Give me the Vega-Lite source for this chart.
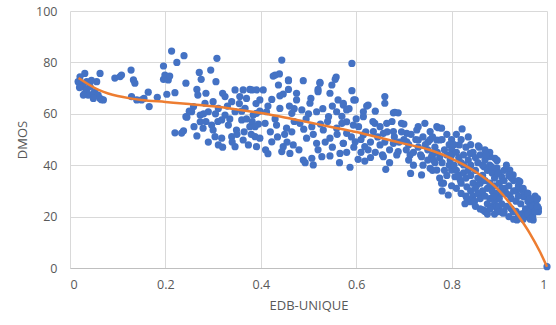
{
"$schema":"https://vega.github.io/schema/vega-lite/v6.json",
"width":477,"height":257,
"autosize":{"type":"none"},
"padding":{"left":70,"top":11,"right":9,"bottom":57},
"background":"white",
"config":{"view":{"stroke":null},"font":"Open Sans"},
"datasets":{
"pts":[
{"x":0.031,"y":75.7},{"x":0.021,"y":74.4},{"x":0.017,"y":72.5},{"x":0.025,"y":71.9},{"x":0.035,"y":72.5},{"x":0.028,"y":70.6},{"x":0.021,"y":70.6},{"x":0.035,"y":69.3},{"x":0.042,"y":70.6},{"x":0.031,"y":68},{"x":0.038,"y":67.3},{"x":0.049,"y":68},{"x":0.052,"y":68.6},{"x":0.059,"y":67.3},{"x":0.063,"y":66},{"x":0.07,"y":65.4},{"x":0.063,"y":75.7},{"x":0.056,"y":72.5},{"x":0.049,"y":66},{"x":0.028,"y":67.3},{"x":0.02,"y":70.2},{"x":0.094,"y":73.9},{"x":0.105,"y":74.5},{"x":0.108,"y":75.1},{"x":0.128,"y":77},{"x":0.133,"y":73.2},{"x":0.136,"y":71.9},{"x":0.129,"y":66.7},{"x":0.14,"y":65.4},{"x":0.15,"y":65.4},{"x":0.164,"y":68.4},{"x":0.166,"y":62.8},{"x":0.183,"y":66.4},{"x":0.155,"y":66},{"x":0.196,"y":78.6},{"x":0.196,"y":73.4},{"x":0.066,"y":65.5},{"x":0.045,"y":73},
{"x":0.213,"y":84.4},{"x":0.239,"y":82.6},{"x":0.224,"y":80},{"x":0.271,"y":76.1},{"x":0.295,"y":77},{"x":0.308,"y":81.6},{"x":0.199,"y":75.1},{"x":0.206,"y":73.2},{"x":0.243,"y":71.9},{"x":0.275,"y":73.4},{"x":0.306,"y":72.5},{"x":0.266,"y":69.5},{"x":0.22,"y":68.2},{"x":0.203,"y":67.6},{"x":0.268,"y":67.3},{"x":0.325,"y":66.7},{"x":0.346,"y":69.3},{"x":0.363,"y":69.3},{"x":0.377,"y":69.5},{"x":0.391,"y":69.3},{"x":0.356,"y":66.7},{"x":0.339,"y":64.7},{"x":0.3,"y":64.7},{"x":0.283,"y":64.1},{"x":0.259,"y":62.8},{"x":0.255,"y":60.8},{"x":0.273,"y":59.5},{"x":0.29,"y":60.8},{"x":0.311,"y":62.1},{"x":0.325,"y":59.5},{"x":0.346,"y":60.8},{"x":0.367,"y":62.1},{"x":0.384,"y":59.5},{"x":0.243,"y":58.9},{"x":0.273,"y":56.9},{"x":0.297,"y":55.6},{"x":0.318,"y":57.6},{"x":0.36,"y":57.6},{"x":0.377,"y":55},{"x":0.349,"y":53.7},{"x":0.3,"y":53.7},{"x":0.279,"y":54.4},{"x":0.22,"y":52.6},{"x":0.238,"y":53.4},{"x":0.266,"y":51.4},{"x":0.304,"y":51.1},{"x":0.318,"y":50.5},{"x":0.339,"y":51.1},{"x":0.363,"y":49.8},{"x":0.388,"y":51.1},{"x":0.311,"y":47.9},{"x":0.346,"y":47.2},{"x":0.374,"y":47.9},{"x":0.391,"y":47.2},{"x":0.332,"y":55.6},{"x":0.234,"y":52.5},{"x":0.245,"y":58.7},{"x":0.285,"y":68},{"x":0.31,"y":57},{"x":0.33,"y":63},{"x":0.35,"y":52},{"x":0.37,"y":58},{"x":0.39,"y":64},{"x":0.395,"y":56},{"x":0.32,"y":47},{"x":0.34,"y":49},{"x":0.36,"y":61},{"x":0.38,"y":52},{"x":0.28,"y":60},{"x":0.29,"y":49},{"x":0.26,"y":55},{"x":0.25,"y":61},{"x":0.209,"y":74.7},{"x":0.32,"y":68},{"x":0.355,"y":64},{"x":0.37,"y":66},{"x":0.335,"y":58},{"x":0.305,"y":60},{"x":0.285,"y":57},{"x":0.365,"y":53},{"x":0.382,"y":57},{"x":0.398,"y":61},
{"x":0.444,"y":80.9},{"x":0.43,"y":75.1},{"x":0.439,"y":75.5},{"x":0.437,"y":71.2},{"x":0.458,"y":72.9},{"x":0.489,"y":72.9},{"x":0.524,"y":71.9},{"x":0.558,"y":74.3},{"x":0.591,"y":79.6},{"x":0.381,"y":69.3},{"x":0.405,"y":69.3},{"x":0.423,"y":65.6},{"x":0.447,"y":67.7},{"x":0.458,"y":69.5},{"x":0.475,"y":65.4},{"x":0.503,"y":64.1},{"x":0.52,"y":68.6},{"x":0.545,"y":68},{"x":0.562,"y":65.4},{"x":0.573,"y":63.4},{"x":0.398,"y":65.4},{"x":0.391,"y":60.2},{"x":0.412,"y":60.8},{"x":0.44,"y":62.1},{"x":0.465,"y":60.2},{"x":0.486,"y":61.5},{"x":0.517,"y":60.8},{"x":0.542,"y":58.9},{"x":0.559,"y":60.8},{"x":0.58,"y":56.9},{"x":0.388,"y":55},{"x":0.409,"y":56.3},{"x":0.433,"y":55.6},{"x":0.454,"y":54.4},{"x":0.482,"y":56.3},{"x":0.507,"y":55},{"x":0.531,"y":53.7},{"x":0.559,"y":54.4},{"x":0.398,"y":50.5},{"x":0.423,"y":49.1},{"x":0.447,"y":47.2},{"x":0.468,"y":47.9},{"x":0.496,"y":50.5},{"x":0.517,"y":48.5},{"x":0.545,"y":50.5},{"x":0.573,"y":48.5},{"x":0.444,"y":45.3},{"x":0.461,"y":44.6},{"x":0.489,"y":42},{"x":0.507,"y":42.7},{"x":0.528,"y":43.3},{"x":0.545,"y":43.6},{"x":0.566,"y":44.6},{"x":0.493,"y":41},{"x":0.51,"y":40.1},{"x":0.426,"y":74.7},{"x":0.458,"y":73.2},{"x":0.52,"y":69.5},{"x":0.549,"y":71.2},{"x":0.556,"y":73.4},{"x":0.524,"y":72.2},{"x":0.41,"y":46},{"x":0.42,"y":53},{"x":0.43,"y":58},{"x":0.44,"y":67},{"x":0.45,"y":52},{"x":0.46,"y":63},{"x":0.47,"y":57},{"x":0.48,"y":46},{"x":0.49,"y":54},{"x":0.5,"y":60},{"x":0.51,"y":52},{"x":0.52,"y":46},{"x":0.53,"y":62},{"x":0.54,"y":57},{"x":0.55,"y":47},{"x":0.56,"y":52},{"x":0.57,"y":59},{"x":0.58,"y":45},{"x":0.59,"y":51},{"x":0.6,"y":58},{"x":0.415,"y":63},{"x":0.455,"y":49},{"x":0.475,"y":68},{"x":0.505,"y":66},{"x":0.535,"y":49},{"x":0.565,"y":41},{"x":0.595,"y":47},{"x":0.435,"y":51},{"x":0.465,"y":53},{"x":0.495,"y":58},{"x":0.525,"y":56},{"x":0.55,"y":63},{"x":0.585,"y":62},{"x":0.415,"y":44.5},{"x":0.47,"y":62},
{"x":0.591,"y":69},{"x":0.595,"y":65.4},{"x":0.573,"y":64.1},{"x":0.58,"y":61.5},{"x":0.625,"y":63.4},{"x":0.66,"y":66.7},{"x":0.66,"y":64.1},{"x":0.615,"y":60.8},{"x":0.615,"y":58.9},{"x":0.678,"y":60.4},{"x":0.688,"y":60.4},{"x":0.57,"y":56.3},{"x":0.594,"y":55.6},{"x":0.639,"y":56.3},{"x":0.664,"y":56.3},{"x":0.695,"y":56.3},{"x":0.744,"y":56.3},{"x":0.769,"y":55},{"x":0.58,"y":52.4},{"x":0.615,"y":51.8},{"x":0.636,"y":53.1},{"x":0.657,"y":52.4},{"x":0.678,"y":53.1},{"x":0.706,"y":52.4},{"x":0.727,"y":53.7},{"x":0.755,"y":53.1},{"x":0.573,"y":48.5},{"x":0.598,"y":49.1},{"x":0.618,"y":47.2},{"x":0.65,"y":47.9},{"x":0.678,"y":48.5},{"x":0.706,"y":49.1},{"x":0.73,"y":49.8},{"x":0.751,"y":49.1},{"x":0.769,"y":49.8},{"x":0.604,"y":42.3},{"x":0.618,"y":41.6},{"x":0.657,"y":43.3},{"x":0.688,"y":45.3},{"x":0.713,"y":44},{"x":0.737,"y":43.3},{"x":0.758,"y":43.3},{"x":0.587,"y":39.2},{"x":0.662,"y":38.4},{"x":0.714,"y":36.8},{"x":0.737,"y":36.2},{"x":0.755,"y":38.8},{"x":0.622,"y":63},{"x":0.681,"y":60.6},{"x":0.598,"y":65.4},{"x":0.605,"y":55},{"x":0.61,"y":50},{"x":0.62,"y":53},{"x":0.625,"y":46},{"x":0.63,"y":49},{"x":0.635,"y":57},{"x":0.64,"y":45},{"x":0.645,"y":51},{"x":0.65,"y":55},{"x":0.655,"y":44},{"x":0.66,"y":49},{"x":0.665,"y":53},{"x":0.67,"y":46},{"x":0.675,"y":57},{"x":0.68,"y":51},{"x":0.685,"y":44},{"x":0.69,"y":49},{"x":0.695,"y":53},{"x":0.7,"y":56},{"x":0.64,"y":61},{"x":0.61,"y":45},{"x":0.63,"y":43},{"x":0.67,"y":41},{"x":0.7,"y":50},{"x":0.705,"y":46},{"x":0.71,"y":48},{"x":0.715,"y":52},{"x":0.72,"y":45},{"x":0.725,"y":50},{"x":0.73,"y":47},{"x":0.735,"y":44},{"x":0.74,"y":51},{"x":0.745,"y":48},{"x":0.75,"y":46},{"x":0.755,"y":50},{"x":0.76,"y":44},{"x":0.72,"y":40},{"x":0.74,"y":40},{"x":0.75,"y":42},{"x":0.73,"y":55},{"x":0.71,"y":42},{"x":0.765,"y":41},{"x":0.76,"y":38},{"x":0.772,"y":54.6},
{"x":0.779,"y":54.4},{"x":0.822,"y":54.1},{"x":0.856,"y":47.5},{"x":0.816,"y":47.9},{"x":0.776,"y":49.8},{"x":0.839,"y":44.6},{"x":0.881,"y":43.3},{"x":0.895,"y":42},{"x":0.762,"y":42},{"x":0.797,"y":42},{"x":0.825,"y":40.1},{"x":0.868,"y":39.4},{"x":0.891,"y":38.1},{"x":0.783,"y":33},{"x":0.793,"y":28.4},{"x":0.807,"y":35.5},{"x":0.832,"y":31.6},{"x":0.832,"y":27.1},{"x":0.845,"y":25.8},{"x":0.863,"y":29.1},{"x":0.866,"y":22.6},{"x":0.895,"y":23.2},{"x":0.769,"y":38.1},{"x":0.86,"y":34.8},{"x":0.881,"y":31.6},{"x":0.853,"y":32.3},{"x":0.818,"y":34.2},{"x":0.8,"y":38.1},{"x":0.779,"y":33},{"x":0.839,"y":25.8},
{"x":0.765,"y":47},{"x":0.77,"y":45},{"x":0.775,"y":43},{"x":0.78,"y":41},{"x":0.785,"y":46},{"x":0.79,"y":44},{"x":0.795,"y":48},{"x":0.76,"y":51},{"x":0.78,"y":50},{"x":0.79,"y":52},{"x":0.8,"y":50},{"x":0.8,"y":46},{"x":0.8,"y":44},{"x":0.785,"y":38},{"x":0.79,"y":36},{"x":0.795,"y":40},{"x":0.775,"y":35},{"x":0.78,"y":30},{"x":0.8,"y":32},{"x":0.805,"y":48},{"x":0.81,"y":45},{"x":0.815,"y":43},{"x":0.82,"y":41},{"x":0.825,"y":44},{"x":0.83,"y":47},{"x":0.835,"y":42},{"x":0.84,"y":40},{"x":0.845,"y":45},{"x":0.85,"y":43},{"x":0.81,"y":38},{"x":0.815,"y":36},{"x":0.82,"y":33},{"x":0.825,"y":37},{"x":0.83,"y":35},{"x":0.835,"y":38},{"x":0.84,"y":36},{"x":0.845,"y":33},{"x":0.85,"y":38},{"x":0.805,"y":40},{"x":0.81,"y":31},{"x":0.82,"y":29},{"x":0.83,"y":28},{"x":0.84,"y":30},{"x":0.845,"y":28},{"x":0.85,"y":31},{"x":0.82,"y":50},{"x":0.835,"y":51},{"x":0.84,"y":48},{"x":0.81,"y":52},{"x":0.828,"y":25},{"x":0.848,"y":26},{"x":0.85,"y":24},{"x":0.855,"y":41},{"x":0.86,"y":44},{"x":0.865,"y":40},{"x":0.87,"y":42},{"x":0.875,"y":38},{"x":0.88,"y":40},{"x":0.885,"y":37},{"x":0.89,"y":35},{"x":0.895,"y":39},{"x":0.9,"y":37},{"x":0.855,"y":35},{"x":0.86,"y":33},{"x":0.865,"y":36},{"x":0.87,"y":34},{"x":0.875,"y":31},{"x":0.88,"y":33},{"x":0.885,"y":30},{"x":0.89,"y":32},{"x":0.895,"y":29},{"x":0.9,"y":33},{"x":0.855,"y":29},{"x":0.86,"y":27},{"x":0.865,"y":30},{"x":0.87,"y":28},{"x":0.875,"y":25},{"x":0.88,"y":27},{"x":0.885,"y":24},{"x":0.89,"y":26},{"x":0.895,"y":24},{"x":0.9,"y":27},{"x":0.86,"y":23},{"x":0.87,"y":22},{"x":0.875,"y":21},{"x":0.88,"y":23},{"x":0.89,"y":21},{"x":0.9,"y":24},{"x":0.858,"y":47},{"x":0.87,"y":46},{"x":0.88,"y":45},{"x":0.872,"y":44},
{"x":0.891,"y":42.7},{"x":0.895,"y":41.8},{"x":0.884,"y":39.4},{"x":0.905,"y":35.5},{"x":0.929,"y":36.2},{"x":0.943,"y":33.6},{"x":0.971,"y":26.5},{"x":0.982,"y":23.2},{"x":0.971,"y":21.3},{"x":0.951,"y":21.3},{"x":0.929,"y":21.9},{"x":0.908,"y":21.3},{"x":0.887,"y":27.7},{"x":0.922,"y":28.4},{"x":0.951,"y":27.7},{"x":0.964,"y":24.5},{"x":0.912,"y":31},{"x":0.937,"y":30.3},{"x":0.958,"y":29.1},{"x":0.975,"y":25.1},{"x":0.922,"y":38.1},{"x":0.898,"y":36.8},{"x":0.901,"y":21.9},{"x":0.937,"y":18.7},{"x":0.971,"y":18.7},{"x":0.982,"y":21.9},{"x":0.978,"y":26.5},
{"x":0.905,"y":31},{"x":0.91,"y":34},{"x":0.915,"y":29},{"x":0.92,"y":32},{"x":0.925,"y":27},{"x":0.93,"y":30},{"x":0.935,"y":26},{"x":0.94,"y":28},{"x":0.945,"y":25},{"x":0.95,"y":30},{"x":0.955,"y":23},{"x":0.96,"y":26},{"x":0.965,"y":22},{"x":0.97,"y":24},{"x":0.975,"y":28},{"x":0.905,"y":25},{"x":0.91,"y":22},{"x":0.915,"y":24},{"x":0.92,"y":20},{"x":0.925,"y":23},{"x":0.93,"y":19},{"x":0.935,"y":22},{"x":0.94,"y":20},{"x":0.945,"y":21},{"x":0.95,"y":19},{"x":0.955,"y":20},{"x":0.96,"y":21},{"x":0.965,"y":19},{"x":0.97,"y":20},{"x":0.975,"y":22},{"x":0.98,"y":24},{"x":0.98,"y":27},{"x":0.91,"y":38},{"x":0.92,"y":36},{"x":0.93,"y":34},{"x":0.94,"y":32},{"x":0.95,"y":31},{"x":0.96,"y":29},{"x":0.965,"y":27},{"x":0.915,"y":40},{"x":0.905,"y":29},{"x":0.925,"y":35},{"x":0.94,"y":34},
{"x":1.0,"y":0.5}
],
"trend":[
{"x":0.018,"y":73.9},{"x":0.04,"y":71.3},{"x":0.06,"y":69.3},{"x":0.08,"y":67.9},{"x":0.1,"y":66.9},{"x":0.126,"y":66},{"x":0.15,"y":65.4},{"x":0.2,"y":64.6},{"x":0.25,"y":63.8},{"x":0.3,"y":62.9},{"x":0.35,"y":61.7},{"x":0.4,"y":60.3},{"x":0.45,"y":58.6},{"x":0.5,"y":56.7},{"x":0.55,"y":54.8},{"x":0.6,"y":52.9},{"x":0.65,"y":50.7},{"x":0.7,"y":48.4},{"x":0.755,"y":45.9},{"x":0.8,"y":42.6},{"x":0.825,"y":40.2},{"x":0.86,"y":36.2},{"x":0.895,"y":31},{"x":0.922,"y":25.2},{"x":0.943,"y":19.5},{"x":0.964,"y":13.5},{"x":0.985,"y":6.4},{"x":1.0,"y":0.5}
]
},
"layer":[
{"data":{"name":"pts"},
"mark":{"type":"circle","size":52,"color":"#4472C4","opacity":1},
"encoding":{
"x":{"field":"x","type":"quantitative","scale":{"domain":[0,1],"nice":false},
"axis":{"title":"EDB-UNIQUE","values":[0,0.2,0.4,0.6,0.8,1],"format":"~g","grid":true,"gridColor":"#d9d9d9","domain":true,"domainColor":"#bfbfbf","ticks":false,"tickSize":0,"labelPadding":10,"labelFontSize":12.5,"labelColor":"#595959","titleFontSize":13,"titleFontWeight":"normal","titleColor":"#595959","titlePadding":9}},
"y":{"field":"y","type":"quantitative","scale":{"domain":[0,100],"nice":false},
"axis":{"title":"DMOS","values":[0,20,40,60,80,100],"grid":true,"gridColor":"#d9d9d9","domain":false,"ticks":false,"tickSize":0,"labelPadding":13,"labelFontSize":12.5,"labelColor":"#595959","titleFontSize":13,"titleFontWeight":"normal","titleColor":"#595959","titlePadding":6}}
}},
{"data":{"name":"trend"},
"mark":{"type":"line","color":"#ED7D31","strokeWidth":2.5,"interpolate":"monotone"},
"encoding":{"x":{"field":"x","type":"quantitative"},"y":{"field":"y","type":"quantitative"}}}
]
}
